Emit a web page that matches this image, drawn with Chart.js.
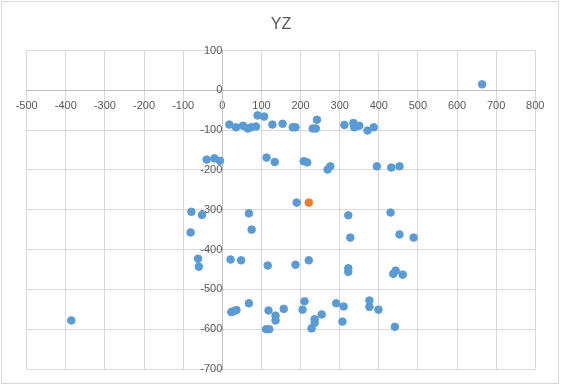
<!DOCTYPE html>
<html>
<head>
    <meta charset="UTF-8">
    <title>YZ</title>
    <script src="https://cdn.jsdelivr.net/npm/chart.js"></script>
    <style>
        body {
            margin: 0;
            background: #fff;
        }
        #chart {
            display: block;
        }
    </style>
</head>
<body>

    <canvas id="chart" width="561" height="386"></canvas>

    <script>
        // Y (horizontal) and Z (vertical) values
        const yBlue = [
            18, 35, 53, 65, 74, 86, 90, 107, 128, 154, 180, 187, 231, 239, 242, 312, 335, 337, 350, 371, 387,
            664,
            -40, -20, -6, 113, 134, 208, 217, 269, 276, 395, 432, 453,
            190, -79, -52, -81, 68, 75, 322, 327, 430, 453, 489,
            -62, -60, 21, 48, 116, 187, 221, 322, 322, 443, 437, 461,
            23, 29, 36, 68, 118, 136, 136, 157, 112, 120, 210, 205, 236, 236, 228, 254, 291, 310, 307, 376, 376, 399, 441, -386
        ];
        const zBlue = [
            -86, -93, -89, -96, -93, -91, -63, -66, -86, -84, -93, -93, -96, -96, -74, -87, -82, -93, -89, -101, -93,
            15,
            -174, -171, -177, -169, -180, -178, -181, -199, -191, -191, -194, -191,
            -282, -305, -313, -357, -309, -350, -314, -370, -307, -362, -370,
            -423, -443, -425, -427, -440, -438, -427, -447, -456, -453, -461, -463,
            -557, -555, -552, -535, -553, -566, -578, -549, -600, -600, -530, -551, -575, -584, -598, -563, -535, -543, -581, -528, -544, -551, -594, -578
        ];
        const yOrange = [221];
        const zOrange = [-282];

        const xTickValues = [-500, -400, -300, -200, -100, 0, 100, 200, 300, 400, 500, 600, 700, 800];
        const yTickValues = [100, 0, -100, -200, -300, -400, -500, -600, -700];

        function toPoints(xs, ys) {
            return xs.map((x, i) => ({ x: x, y: ys[i] }));
        }

        const textColor = '#595959';
        const gridColor = '#d9d9d9';
        const axisColor = '#bfbfbf';
        const tickFont = { family: 'Liberation Sans', size: 11 };

        // white background + light frame around the whole chart
        const frame = {
            id: 'frame',
            beforeDraw(chart) {
                const ctx = chart.ctx;
                ctx.save();
                ctx.fillStyle = '#fff';
                ctx.fillRect(0, 0, chart.width, chart.height);
                ctx.strokeStyle = gridColor;
                ctx.lineWidth = 1;
                ctx.strokeRect(1.5, 1.5, 557, 382);
                ctx.restore();
            }
        };

        new Chart(document.getElementById('chart'), {
            type: 'scatter',
            data: {
                datasets: [{
                    label: 'YZ',
                    data: toPoints(yOrange, zOrange),
                    backgroundColor: '#ED7D31',
                    borderColor: '#ED7D31',
                    pointRadius: 3.8,
                    pointHoverRadius: 3.8
                }, {
                    label: 'YZ',
                    data: toPoints(yBlue, zBlue),
                    backgroundColor: '#5B9BD5',
                    borderColor: '#5B9BD5',
                    pointRadius: 3.8,
                    pointHoverRadius: 3.8
                }]
            },
            options: {
                responsive: false,
                animation: false,
                devicePixelRatio: 1,
                layout: {
                    padding: { top: 4, left: 26.7, right: 25.7, bottom: 17 }
                },
                plugins: {
                    legend: { display: false },
                    tooltip: { enabled: false },
                    title: {
                        display: true,
                        text: 'YZ',
                        color: textColor,
                        font: { family: 'Liberation Sans', size: 16, weight: 'normal' },
                        padding: { top: 11, bottom: 16.3 }
                    }
                },
                scales: {
                    x: {
                        type: 'linear',
                        position: { y: 0 },
                        min: xTickValues[0],
                        max: xTickValues[xTickValues.length - 1],
                        afterBuildTicks: s => { s.ticks = xTickValues.map(v => ({ value: v })); },
                        grid: { color: gridColor, drawTicks: false },
                        border: { color: axisColor },
                        ticks: { color: textColor, font: tickFont, padding: 9, maxRotation: 0, autoSkip: false }
                    },
                    y: {
                        type: 'linear',
                        position: { x: 0 },
                        min: yTickValues[yTickValues.length - 1],
                        max: yTickValues[0],
                        afterBuildTicks: s => { s.ticks = yTickValues.slice().reverse().map(v => ({ value: v })); },
                        grid: { color: gridColor, drawTicks: false },
                        border: { color: axisColor },
                        ticks: { color: textColor, font: tickFont, padding: 10, autoSkip: false }
                    }
                }
            },
            plugins: [frame]
        });
    </script>

</body>
</html>
